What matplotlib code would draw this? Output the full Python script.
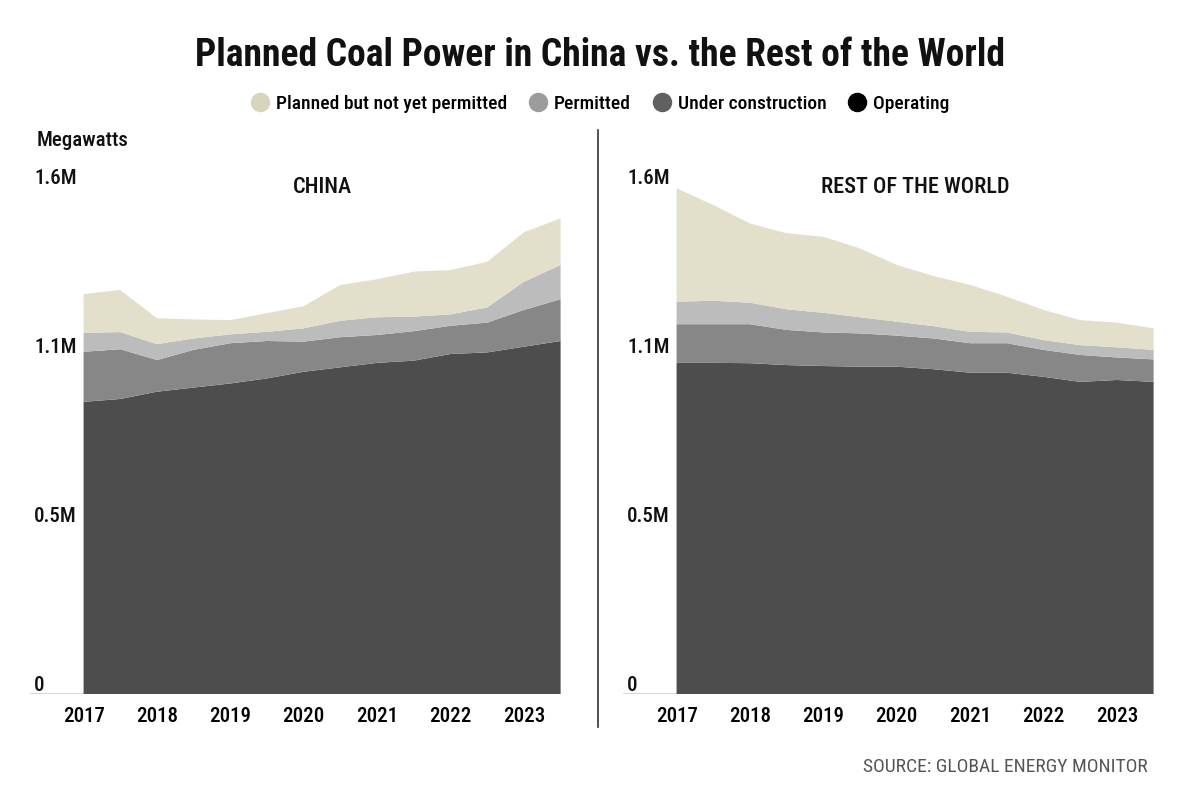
"""Planned coal power: China vs. rest of the world, stacked areas."""

import matplotlib

matplotlib.use("Agg")
import matplotlib.pyplot as plt
from matplotlib import font_manager
from matplotlib.lines import Line2D

# half-year steps, 2017 H1 .. 2023 H2
periods = [2017 + 0.5 * i for i in range(14)]
years = [2017, 2018, 2019, 2020, 2021, 2022, 2023]

layer_names = ["Operating", "Under construction", "Permitted", "Planned but not yet permitted"]

# megawatts
china_operating = [922000, 931000, 954000, 967000, 980000, 996000, 1017000,
                   1031000, 1045000, 1052000, 1073000, 1078000, 1096000, 1114000]
china_construction = [158000, 157000, 100000, 119000, 127000, 118000, 95000,
                      95000, 88000, 93000, 89000, 94000, 116000, 132000]
china_permitted = [60000, 54000, 50000, 36000, 28000, 29000, 42000,
                   52000, 56000, 46000, 36000, 48000, 89000, 108000]
china_planned = [122000, 133000, 82000, 60000, 45000, 59000, 70000,
                 113000, 120000, 142000, 140000, 144000, 156000, 147000]

row_operating = [1045000, 1045000, 1044000, 1038000, 1035000, 1033000, 1033000,
                 1025000, 1014000, 1014000, 1001000, 985000, 991000, 985000]
row_construction = [122000, 122000, 123000, 111000, 106000, 105000, 98000,
                    97000, 93000, 93000, 85000, 85000, 71000, 71000]
row_permitted = [71000, 74000, 68000, 65000, 62000, 51000, 44000,
                 39000, 36000, 34000, 31000, 31000, 32000, 30000]
row_planned = [358000, 302000, 250000, 240000, 240000, 217000, 179000,
               158000, 148000, 113000, 95000, 79000, 78000, 68000]

ytick_values = [0, 1.6e6 / 3, 3.2e6 / 3, 1.6e6]
ytick_labels = ["0", "0.5M", "1.1M", "1.6M"]

area_colors = ["#4d4d4d", "#878787", "#bcbcbc", "#e2dfcb"]
legend_colors = ["#000000", "#606060", "#9c9c9c", "#d8d5bd"]

_CANDIDATES = ["Roboto Condensed", "Liberation Sans Narrow", "DejaVu Sans Condensed",
               "Roboto", "DejaVu Sans"]
available = {f.name for f in font_manager.fontManager.ttflist}
FONT = next(c for c in _CANDIDATES if c in available or c == "DejaVu Sans")
plt.rcParams["font.family"] = [FONT, "DejaVu Sans"]

W, H = 1200, 809
fig = plt.figure(figsize=(W / 100, H / 100), dpi=100)


def px_box(left, right, top, bottom):
    return [left / W, 1 - bottom / H, (right - left) / W, (bottom - top) / H]


def panel(ax, layers, title):
    ax.stackplot(periods, *layers, colors=area_colors, linewidth=0)
    ax.set_xlim(2016.27, 2023.5)
    ax.set_ylim(0, 1.6e6)
    for side in ax.spines.values():
        side.set_visible(False)
    ax.axhline(0, color="#cfcfcf", linewidth=1.2, zorder=0)
    ax.set_yticks([])
    ax.set_xticks(years)
    ax.set_xticklabels([str(y) for y in years], fontsize=15, fontweight="medium")
    ax.tick_params(axis="x", length=0, pad=9)
    for value, label in zip(ytick_values, ytick_labels):
        ax.annotate(label, (2016.27, value), xytext=(3, -0.5), textcoords="offset points",
                    ha="left", va="bottom", fontsize=15, fontweight="medium", color="#111111")
    ax.text(2020.25, 1.6e6, title, ha="center", va="center", fontsize=16,
            fontweight="medium", color="#111111")


ax_china = fig.add_axes(px_box(30, 560.6, 187, 694))
panel(ax_china, [china_operating, china_construction, china_permitted, china_planned], "CHINA")

ax_row = fig.add_axes(px_box(623, 1153.6, 187, 694))
panel(ax_row, [row_operating, row_construction, row_permitted, row_planned], "REST OF THE WORLD")

fig.text(0.5, 1 - 56 / H, "Planned Coal Power in China vs. the Rest of the World",
         ha="center", va="center", fontsize=27, fontweight="bold", color="#111111")
fig.text(37 / W, 1 - 140 / H, "Megawatts", ha="left", va="center", fontsize=15,
         fontweight="medium", color="#111111")
fig.text(1148 / W, 1 - 767 / H, "SOURCE: GLOBAL ENERGY MONITOR", ha="right", va="center",
         fontsize=14, color="#555555")

# divider between panels
fig.add_artist(Line2D([598 / W, 598 / W], [1 - 130 / H, 1 - 727 / H],
                      color="#333333", linewidth=1.2))

handles = [Line2D([], [], marker="o", linestyle="none", markersize=13,
                  markerfacecolor=c, markeredgecolor=c) for c in legend_colors[::-1]]
fig.legend(handles, layer_names[::-1], loc="center", bbox_to_anchor=(0.5, 1 - 104 / H),
           ncol=4, frameon=False, prop={"size": 14, "weight": "medium"},
           handletextpad=0.3, columnspacing=1.1, handlelength=1.0)

fig.savefig("out.png", dpi=100)
